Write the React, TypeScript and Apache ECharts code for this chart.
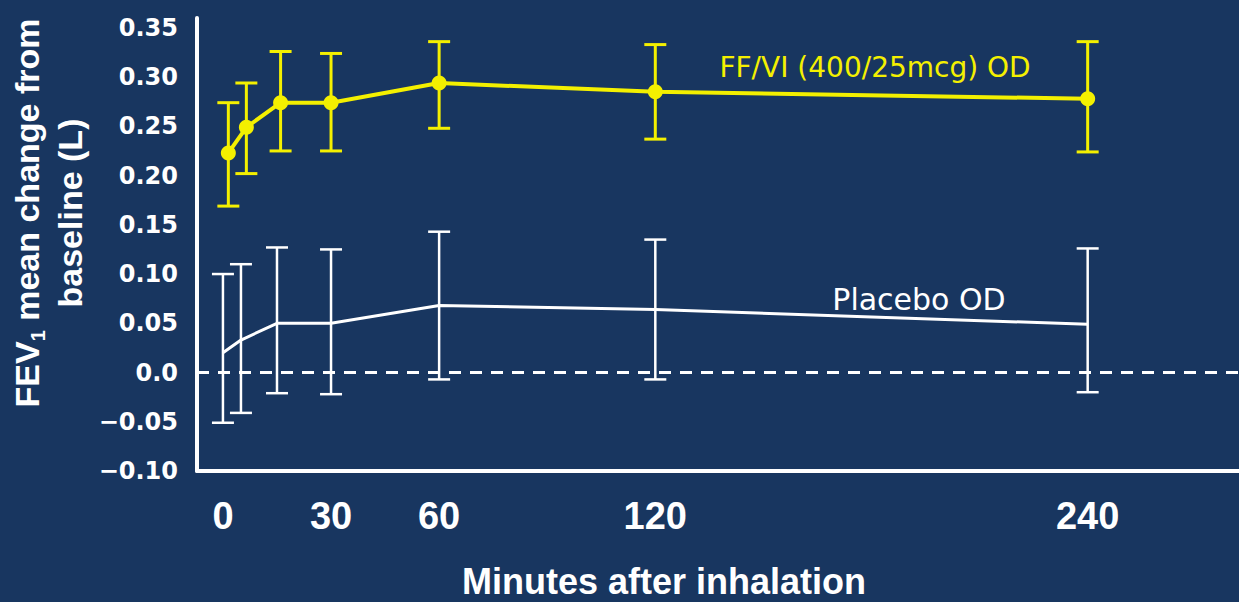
import React, { useEffect, useRef } from "react";
import * as echarts from "echarts";

// Time points (minutes)
const timesFF = [1.5, 6.5, 16, 30, 60, 120, 240];
const timesPbo = [0, 5, 15, 30, 60, 120, 240];

// FF/VI (400/25mcg) OD
const ffMean = [0.223, 0.249, 0.274, 0.274, 0.294, 0.285, 0.278];
const ffLow = [0.169, 0.202, 0.225, 0.225, 0.248, 0.237, 0.224];
const ffHigh = [0.274, 0.294, 0.326, 0.324, 0.336, 0.333, 0.336];

// Placebo OD
const pboMean = [0.02, 0.033, 0.05, 0.05, 0.068, 0.064, 0.049];
const pboLow = [-0.051, -0.041, -0.021, -0.022, -0.007, -0.007, -0.02];
const pboHigh = [0.1, 0.11, 0.127, 0.125, 0.143, 0.135, 0.126];

const xTickValues = [0, 30, 60, 120, 240];

const seriesNames = ["FF/VI (400/25mcg) OD", "Placebo OD"];
const xAxisTitle = "Minutes after inhalation";

const BG = "#183660";
const YELLOW = "#f4f000";
const WHITE = "#ffffff";

function errorBarRender(color: string, width: number) {
  return (params: any, api: any) => {
    const x = api.value(0);
    const lo = api.value(1);
    const hi = api.value(2);
    const pLo = api.coord([x, lo]);
    const pHi = api.coord([x, hi]);
    const hw = 11;
    const style = { stroke: color, lineWidth: width, fill: "none" };
    return {
      type: "group",
      children: [
        { type: "line", shape: { x1: pLo[0], y1: pLo[1], x2: pHi[0], y2: pHi[1] }, style },
        { type: "line", shape: { x1: pLo[0] - hw, y1: pLo[1], x2: pLo[0] + hw, y2: pLo[1] }, style },
        { type: "line", shape: { x1: pHi[0] - hw, y1: pHi[1], x2: pHi[0] + hw, y2: pHi[1] }, style },
      ],
    };
  };
}

function fmtY(v: number) {
  const r = Math.round(v * 100) / 100;
  if (r > 0.355) return "";
  if (r === 0) return "0.0";
  if (r < 0) return "\u2212" + Math.abs(r).toFixed(2);
  return r.toFixed(2);
}

export default function App() {
  const ref = useRef<HTMLDivElement>(null);
  useEffect(() => {
    if (!ref.current) return;
    const chart = echarts.init(ref.current, undefined, { renderer: "svg" });
    const option: any = {
      animation: false,
      backgroundColor: BG,
      grid: { left: 197, right: 0, top: 18, bottom: 131, containLabel: false },
      xAxis: {
        type: "value",
        min: -7.2,
        max: 282,
        axisLine: { show: true, onZero: false, lineStyle: { color: WHITE, width: 4 } },
        axisTick: { show: false },
        splitLine: { show: false },
        axisLabel: {
          customValues: xTickValues,
          color: WHITE,
          fontFamily: "Liberation Sans",
          fontWeight: "bold",
          fontSize: 38,
          margin: 26,
        },
      },
      yAxis: {
        type: "value",
        min: -0.1,
        max: 0.36,
        interval: 0.05,
        axisLine: { show: true, onZero: false, lineStyle: { color: WHITE, width: 4 } },
        axisTick: { show: false },
        splitLine: { show: false },
        axisLabel: {
          formatter: fmtY,
          color: WHITE,
          fontFamily: "DejaVu Sans",
          fontWeight: "bold",
          fontSize: 24,
          margin: 19,
        },
      },
      series: [
        {
          type: "custom",
          name: seriesNames[1] + " error",
          renderItem: errorBarRender(WHITE, 2.5),
          encode: { x: 0, y: [1, 2] },
          data: timesPbo.map((t, i) => [t, pboLow[i], pboHigh[i]]),
          silent: true,
          z: 2,
        },
        {
          type: "line",
          name: seriesNames[1],
          data: timesPbo.map((t, i) => [t, pboMean[i]]),
          symbol: "none",
          lineStyle: { color: WHITE, width: 3 },
          z: 3,
          markLine: {
            silent: true,
            symbol: "none",
            label: { show: false },
            lineStyle: { color: WHITE, width: 3, type: [12, 9] },
            data: [{ yAxis: 0 }],
          },
        },
        {
          type: "custom",
          name: seriesNames[0] + " error",
          renderItem: errorBarRender(YELLOW, 3),
          encode: { x: 0, y: [1, 2] },
          data: timesFF.map((t, i) => [t, ffLow[i], ffHigh[i]]),
          silent: true,
          z: 4,
        },
        {
          type: "line",
          name: seriesNames[0],
          data: timesFF.map((t, i) => [t, ffMean[i]]),
          symbol: "circle",
          symbolSize: 15,
          itemStyle: { color: YELLOW },
          lineStyle: { color: YELLOW, width: 4 },
          z: 5,
        },
      ],
      graphic: [
        {
          type: "text",
          x: 875,
          y: 67,
          style: {
            text: seriesNames[0],
            fill: YELLOW,
            font: "normal 28px 'DejaVu Sans'",
            align: "center",
            verticalAlign: "middle",
            textAlign: "center",
            textVerticalAlign: "middle",
          },
        },
        {
          type: "text",
          x: 919,
          y: 299,
          style: {
            text: seriesNames[1],
            fill: WHITE,
            font: "normal 30px 'DejaVu Sans'",
            align: "center",
            verticalAlign: "middle",
            textAlign: "center",
            textVerticalAlign: "middle",
          },
        },
        {
          type: "text",
          x: 664,
          y: 581,
          style: {
            text: xAxisTitle,
            fill: WHITE,
            font: "bold 36px 'Liberation Sans'",
            align: "center",
            verticalAlign: "middle",
            textAlign: "center",
            textVerticalAlign: "middle",
          },
        },
        {
          type: "text",
          x: 48,
          y: 213,
          rotation: Math.PI / 2,
          style: {
            text: "{a|FEV}{s|1}{a| mean change from}\n{a|baseline (L)}",
            fill: WHITE,
            align: "center",
            verticalAlign: "middle",
            textAlign: "center",
            textVerticalAlign: "middle",
            rich: {
              a: {
                fontFamily: "Liberation Sans",
                fontWeight: "bold",
                fontSize: 34,
                lineHeight: 43,
                fill: WHITE,
                color: WHITE,
              },
              s: {
                fontFamily: "Liberation Sans",
                fontWeight: "bold",
                fontSize: 20,
                lineHeight: 43,
                verticalAlign: "bottom",
                fill: WHITE,
                color: WHITE,
              },
            },
          },
        },
      ],
    };
    chart.setOption(option);
    return () => chart.dispose();
  }, []);
  return (
    <div
      ref={ref}
      style={{ position: "absolute", left: 0, top: 0, width: 1239, height: 602 }}
    />
  );
}
